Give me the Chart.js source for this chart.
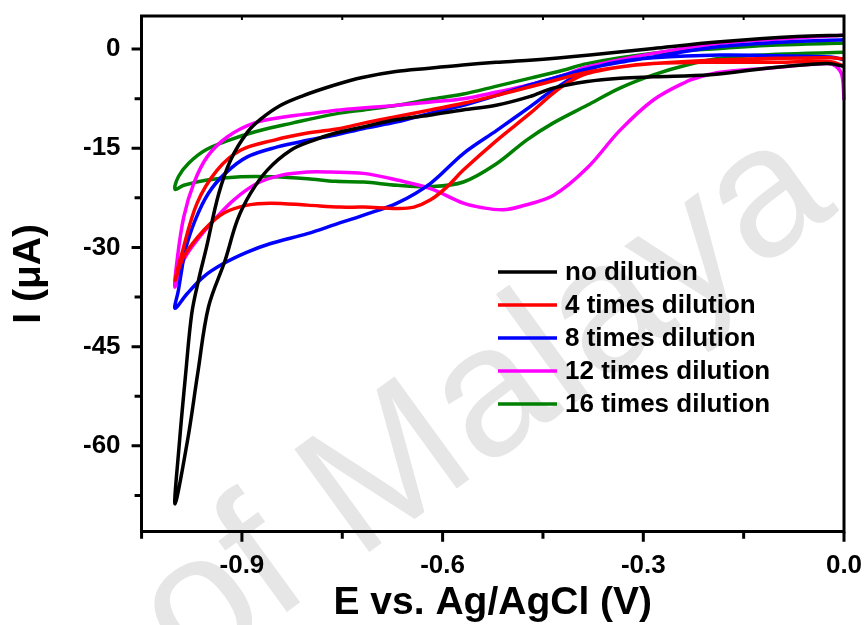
<!DOCTYPE html>
<html><head><meta charset="utf-8">
<script src="https://cdn.jsdelivr.net/npm/chart.js@4/dist/chart.umd.min.js"></script>
<style>html,body{margin:0;padding:0;background:#fff}#wrap{width:866px;height:625px}</style>
</head><body><div id="wrap"><canvas id="c" width="866" height="625"></canvas></div>
<script>
// ---- data (E in V vs Ag/AgCl, I in µA); each loop: forward branch 0 -> -1.0, then return branch -1.0 -> 0
const seriesLabels = ['no dilution', '4 times dilution', '8 times dilution', '12 times dilution', '16 times dilution'];
const seriesColors = ['#000000', '#ff0000', '#0000ff', '#ff00ff', '#008000'];

const noDilution = [
  [0,-2.6],[-0.026,-2.2],[-0.115,-2.9],[-0.2,-3.9],[-0.285,-4.2],[-0.335,-4.4],[-0.384,-4.9],[-0.435,-5.9],
  [-0.47,-7.2],[-0.52,-8.5],[-0.57,-9.2],[-0.62,-10.0],[-0.67,-10.7],[-0.72,-11.8],[-0.76,-12.7],[-0.793,-13.8],
  [-0.827,-15.3],[-0.862,-18.3],[-0.887,-21.8],[-0.907,-25.9],[-0.925,-31.9],[-0.95,-39],[-0.966,-49],[-0.981,-59],
  [-1.0,-68.8],
  [-0.993,-59],[-0.984,-49],[-0.975,-40],[-0.965,-35],[-0.953,-30],[-0.935,-22],[-0.917,-16.8],[-0.892,-12.6],
  [-0.872,-10.6],[-0.842,-8.5],[-0.81,-7.1],[-0.76,-5.4],[-0.72,-4.3],[-0.67,-3.4],[-0.62,-2.9],[-0.57,-2.4],
  [-0.52,-2.0],[-0.47,-1.7],[-0.38,-0.9],[-0.285,0.1],[-0.185,1.1],[-0.07,1.9],[0,2.1]
];
const dilution4 = [
  [0,-2.6],[-0.02,-1.9],[-0.1,-2.0],[-0.2,-2.0],[-0.285,-2.2],[-0.335,-2.7],[-0.384,-3.7],[-0.41,-4.9],
  [-0.435,-6.7],[-0.469,-9.7],[-0.519,-13.8],[-0.569,-18.3],[-0.593,-20.8],[-0.618,-22.8],[-0.643,-23.9],
  [-0.668,-24.1],[-0.718,-23.9],[-0.753,-23.9],[-0.802,-23.6],[-0.857,-23.3],[-0.892,-23.6],[-0.927,-24.8],
  [-0.957,-27.4],[-0.987,-31.4],[-1.0,-35],
  [-0.99,-31],[-0.967,-23.3],[-0.937,-18.3],[-0.902,-15.3],[-0.853,-13.8],[-0.802,-12.7],[-0.753,-12.0],
  [-0.718,-11.2],[-0.668,-10.2],[-0.618,-9.2],[-0.569,-8.2],[-0.519,-7.0],[-0.469,-5.7],[-0.42,-4.4],
  [-0.384,-3.5],[-0.335,-2.7],[-0.285,-2.2],[-0.2,-1.7],[-0.1,-1.4],[-0.02,-1.3],[0,-1.5]
];
const dilution8 = [
  [0,-1.6],[-0.02,-1.2],[-0.1,-1.0],[-0.185,-0.9],[-0.285,-1.3],[-0.335,-1.9],[-0.384,-3.2],[-0.435,-6.2],
  [-0.469,-8.7],[-0.519,-12.3],[-0.569,-15.8],[-0.618,-20.3],[-0.668,-23.3],[-0.718,-25.1],[-0.76,-26.5],
  [-0.802,-27.9],[-0.857,-29.4],[-0.892,-30.7],[-0.927,-32.4],[-0.957,-34.4],[-0.982,-37.0],[-1.0,-39.2],
  [-0.995,-36.5],[-0.99,-33.4],[-0.985,-30.5],[-0.97,-25.9],[-0.95,-21.8],[-0.925,-18.8],[-0.892,-16.3],
  [-0.847,-14.8],[-0.802,-13.8],[-0.76,-13.0],[-0.718,-12.0],[-0.668,-11.0],[-0.618,-9.7],[-0.569,-8.5],
  [-0.519,-7.0],[-0.469,-5.4],[-0.42,-4.0],[-0.384,-3.0],[-0.335,-2.0],[-0.285,-1.2],[-0.2,0.2],[-0.1,1.0],[0,1.4]
];
const dilution12 = [
  [0,-7.7],[-0.003,-4.0],[-0.012,-2.6],[-0.026,-2.2],[-0.115,-2.9],[-0.185,-3.5],[-0.215,-4.2],[-0.235,-4.9],
  [-0.285,-7.7],[-0.335,-12.3],[-0.384,-18.0],[-0.434,-22.1],[-0.484,-23.8],[-0.51,-24.3],[-0.54,-24.0],
  [-0.569,-23.3],[-0.618,-21.1],[-0.668,-19.8],[-0.718,-18.8],[-0.768,-18.6],[-0.802,-18.6],[-0.842,-19.1],
  [-0.877,-20.3],[-0.912,-22.8],[-0.942,-25.9],[-0.967,-28.9],[-0.987,-31.9],[-1.0,-36],
  [-0.997,-32],[-0.987,-25.4],[-0.972,-20.3],[-0.952,-16.3],[-0.922,-13.3],[-0.882,-11.2],[-0.832,-10.2],
  [-0.793,-9.7],[-0.753,-9.2],[-0.668,-8.5],[-0.618,-8.0],[-0.569,-7.5],[-0.519,-6.5],[-0.469,-5.4],
  [-0.42,-4.0],[-0.384,-2.7],[-0.285,-0.65],[-0.185,0.86],[-0.1,1.5],[0,2.1]
];
const dilution16 = [
  [0,-0.5],[-0.1,-0.8],[-0.185,-1.4],[-0.235,-2.4],[-0.285,-3.9],[-0.335,-5.9],[-0.384,-8.5],[-0.435,-11.2],
  [-0.475,-13.8],[-0.519,-17.3],[-0.569,-20.1],[-0.618,-20.8],[-0.668,-20.6],[-0.718,-20.1],[-0.76,-20.0],
  [-0.802,-19.6],[-0.852,-19.3],[-0.902,-19.3],[-0.952,-19.8],[-0.987,-20.6],[-1.0,-21.2],
  [-0.995,-19.3],[-0.98,-17.3],[-0.955,-15.3],[-0.92,-13.8],[-0.88,-12.5],[-0.825,-11.2],[-0.76,-9.8],
  [-0.718,-9.2],[-0.668,-8.5],[-0.618,-7.6],[-0.569,-6.8],[-0.519,-5.6],[-0.469,-4.4],[-0.42,-3.2],
  [-0.384,-2.2],[-0.285,-0.65],[-0.185,0.1],[-0.1,0.6],[0,0.9]
];
const seriesData = [noDilution, dilution4, dilution8, dilution12, dilution16];

const xTickValues = [-0.9, -0.6, -0.3, 0.0];
const xMinorValues = [-1.05, -0.75, -0.45, -0.15];
const yTickValues = [0, -15, -30, -45, -60];
const yMinorValues = [-7.5, -22.5, -37.5, -52.5, -67.5];
const xTitle = 'E vs. Ag/AgCl (V)';
const yTitle = 'I (\u03BCA)';
const watermarkText = 'of Malaya';

const FONT = '"Liberation Sans", Arial, Helvetica, sans-serif';

const watermarkPlugin = {
  id: 'watermark',
  beforeDraw(chart) {
    const ctx = chart.ctx;
    ctx.save();
    ctx.translate(485, 405);
    ctx.rotate(-36 * Math.PI / 180);
    ctx.fillStyle = '#e6e6e6';
    ctx.font = '185px ' + FONT;
    ctx.textAlign = 'center';
    ctx.textBaseline = 'middle';
    ctx.fillText(watermarkText, 0, 0);
    ctx.restore();
  }
};

const framePlugin = {
  id: 'frame',
  afterDraw(chart) {
    const {ctx, chartArea: {left, right, top, bottom}, scales: {x, y}} = chart;
    ctx.save();
    ctx.strokeStyle = '#000';
    ctx.lineWidth = 3;
    ctx.lineCap = 'butt';
    ctx.beginPath();
    ctx.moveTo(left - 1.5, top); ctx.lineTo(right, top); ctx.lineTo(right, bottom + 1.5);
    ctx.stroke();
    // outward ticks on bottom and left axes (major 10px, minor 7px)
    ctx.beginPath();
    xTickValues.forEach(v => { const p = x.getPixelForValue(v); ctx.moveTo(p, bottom); ctx.lineTo(p, bottom + 10); });
    xMinorValues.forEach(v => { const p = x.getPixelForValue(v); ctx.moveTo(p, bottom); ctx.lineTo(p, bottom + 7); });
    yTickValues.forEach(v => { const p = y.getPixelForValue(v); ctx.moveTo(left, p); ctx.lineTo(left - 10, p); });
    yMinorValues.forEach(v => { const p = y.getPixelForValue(v); ctx.moveTo(left, p); ctx.lineTo(left - 7, p); });
    ctx.stroke();
    // small inward ticks on the top frame
    ctx.lineWidth = 2;
    ctx.beginPath();
    xTickValues.concat(xMinorValues).forEach(v => { const p = x.getPixelForValue(v); ctx.moveTo(p, top); ctx.lineTo(p, top + 4); });
    ctx.stroke();
    // legend
    ctx.font = 'bold 26px ' + FONT;
    ctx.textBaseline = 'middle';
    ctx.textAlign = 'left';
    chart.data.datasets.forEach((ds, i) => {
      const yy = 272 + i * 33;
      ctx.strokeStyle = ds.borderColor;
      ctx.lineWidth = 3.5;
      ctx.beginPath(); ctx.moveTo(498, yy); ctx.lineTo(557, yy); ctx.stroke();
      ctx.fillStyle = '#000';
      ctx.fillText(ds.label, 565, yy + 1);
    });
    ctx.restore();
  }
};

const tickFont = {family: FONT, size: 26, weight: 'bold'};
const titleFont = {family: FONT, size: 39, weight: 'bold', lineHeight: 1.0};

new Chart(document.getElementById('c'), {
  type: 'scatter',
  data: {
    datasets: seriesData.map((pts, i) => ({
      label: seriesLabels[i],
      data: pts.map(p => ({x: p[0], y: p[1]})),
      showLine: true,
      borderColor: seriesColors[i],
      backgroundColor: seriesColors[i],
      borderWidth: 3.5,
      pointRadius: 0,
      tension: 0.35,
      fill: false,
      clip: false
    }))
  },
  options: {
    responsive: false,
    animation: false,
    devicePixelRatio: 1,
    layout: {padding: {top: 16, right: 22, left: 0, bottom: 0}},
    plugins: {legend: {display: false}, tooltip: {enabled: false}},
    scales: {
      x: {
        type: 'linear', min: -1.05, max: 0,
        afterBuildTicks: s => { s.ticks = xTickValues.map(v => ({value: v})); },
        ticks: {font: tickFont, color: '#000', padding: 0, maxRotation: 0,
                callback: v => Number(v).toFixed(1)},
        grid: {display: true, drawOnChartArea: false, drawTicks: true, tickLength: 18, tickColor: 'rgba(0,0,0,0)'},
        border: {display: true, color: '#000', width: 3},
        title: {display: true, text: xTitle, font: titleFont, color: '#000', padding: {top: 3, bottom: 2}}
      },
      y: {
        type: 'linear', min: -73, max: 5,
        afterBuildTicks: s => { s.ticks = yTickValues.map(v => ({value: v})); },
        ticks: {font: tickFont, color: '#000', padding: 0, callback: v => String(v)},
        grid: {display: true, drawOnChartArea: false, drawTicks: true, tickLength: 21, tickColor: 'rgba(0,0,0,0)'},
        border: {display: true, color: '#000', width: 3},
        title: {display: true, text: yTitle, font: titleFont, color: '#000', padding: {top: 10, bottom: 34}}
      }
    }
  },
  plugins: [watermarkPlugin, framePlugin]
});
</script>
</body></html>
